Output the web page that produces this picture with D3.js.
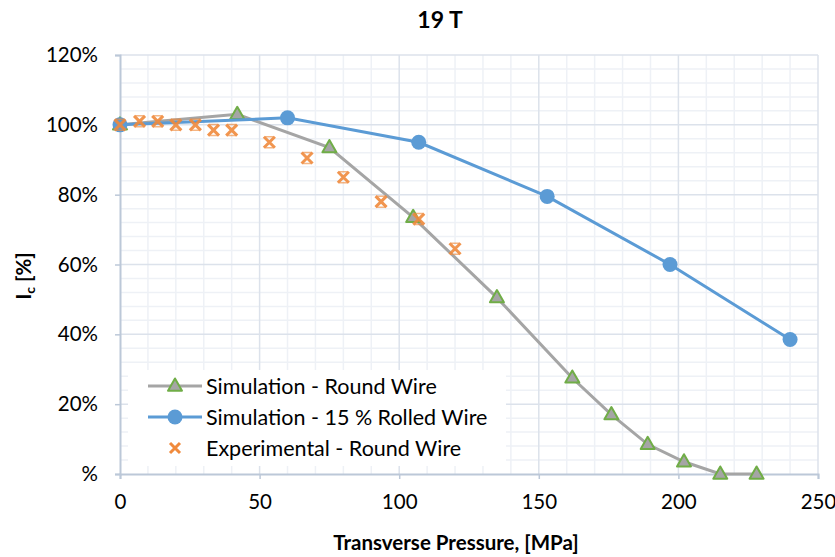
<!DOCTYPE html>
<html>
<head>
<meta charset="utf-8">
<script src="https://cdn.jsdelivr.net/npm/d3@7"></script>
<style>
  html, body { margin: 0; padding: 0; background: #fff; }
  svg text { font-family: Lato, "Open Sans", sans-serif; fill: #000; }
</style>
</head>
<body>
<svg id="chart" width="835" height="557"></svg>
<script>
// ---- data ----
const roundP  = [0, 42, 75, 105, 135, 162, 176, 189, 202, 215, 228];
const roundIc = [1.00, 1.03, 0.935, 0.735, 0.505, 0.275, 0.17, 0.085, 0.035, 0.0, 0.0];

const rolledP  = [0, 60, 107, 153, 197, 240];
const rolledIc = [1.00, 1.02, 0.95, 0.795, 0.60, 0.385];

const expP  = [0, 7, 13.5, 20, 27, 33.5, 40, 53.5, 67, 80, 93.5, 107, 120];
const expIc = [1.00, 1.01, 1.01, 1.00, 1.00, 0.985, 0.985, 0.95, 0.905, 0.85, 0.78, 0.73, 0.645];

const xTicks = [0, 50, 100, 150, 200, 250];
const yTicks = [0, 0.2, 0.4, 0.6, 0.8, 1.0, 1.2];
const yTickLabels = ["%", "20%", "40%", "60%", "80%", "100%", "120%"];
const seriesNames = ["Simulation - Round Wire", "Simulation - 15 % Rolled Wire", "Experimental - Round Wire"];
const titleText = "19 T";
const xTitle = "Transverse Pressure, [MPa]";

// ---- layout ----
const svg = d3.select("#chart");
const x = d3.scaleLinear().domain([0, 250]).range([120, 818]);
const y = d3.scaleLinear().domain([0, 1.2]).range([474, 55]);

const gridMinor = "#EEF1F6", gridMajor = "#DCE2EB", axisCol = "#BCC8D8";

// minor grid
svg.append("g").selectAll("line").data(d3.range(10, 251, 10).filter(v => v % 50 !== 0))
  .join("line").attr("x1", d => x(d)).attr("x2", d => x(d)).attr("y1", y(1.2)).attr("y2", y(0))
  .attr("stroke", gridMinor).attr("stroke-width", 1.5);
svg.append("g").selectAll("line").data(d3.range(1, 30).map(i => i * 0.04).filter(v => Math.abs(v / 0.2 - Math.round(v / 0.2)) > 1e-6))
  .join("line").attr("x1", x(0)).attr("x2", x(250)).attr("y1", d => y(d)).attr("y2", d => y(d))
  .attr("stroke", gridMinor).attr("stroke-width", 1.5);
// major grid
svg.append("g").selectAll("line").data(xTicks.slice(1))
  .join("line").attr("x1", d => x(d)).attr("x2", d => x(d)).attr("y1", y(1.2)).attr("y2", y(0))
  .attr("stroke", gridMajor).attr("stroke-width", 1.5);
svg.append("g").selectAll("line").data(yTicks.slice(1))
  .join("line").attr("x1", x(0)).attr("x2", x(250)).attr("y1", d => y(d)).attr("y2", d => y(d))
  .attr("stroke", gridMajor).attr("stroke-width", 1.5);

// axes
const xAxis = d3.axisBottom(x).tickValues(xTicks).tickSize(5).tickPadding(15).tickFormat(d3.format("d"));
const gx = svg.append("g").attr("transform", `translate(0,${y(0)})`).call(xAxis);
gx.select(".domain").attr("stroke", axisCol).attr("stroke-width", 2);
gx.selectAll(".tick line").attr("stroke", axisCol).attr("stroke-width", 1.5);
gx.selectAll(".tick text").attr("font-size", 20.5).attr("font-family", "Lato");

const yAxis = d3.axisLeft(y).tickValues(yTicks).tickSize(5).tickPadding(17)
  .tickFormat((d, i) => yTickLabels[i]);
const gy = svg.append("g").attr("transform", `translate(${x(0)},0)`).call(yAxis);
gy.select(".domain").attr("stroke", axisCol).attr("stroke-width", 2);
gy.selectAll(".tick line").attr("stroke", axisCol).attr("stroke-width", 1.5);
gy.selectAll(".tick text").attr("font-size", 20.5).attr("font-family", "Lato");

// series
const line = d3.line().x(d => x(d[0])).y(d => y(d[1]));
const roundData = roundP.map((p, i) => [p, roundIc[i]]);
const rolledData = rolledP.map((p, i) => [p, rolledIc[i]]);
const expData = expP.map((p, i) => [p, expIc[i]]);

const grayCol = "#A5A5A5", blueCol = "#5B9BD5", greenCol = "#70AD47", orangeCol = "#F08A3C";

function triPath(s) { const h = s * 0.87; return `M0,${-h*0.62}L${s/2},${h*0.38}L${-s/2},${h*0.38}Z`; }
function xDiag(s) { const r = s / 2; return `M${-r},${-r}L${r},${r}M${r},${-r}L${-r},${r}`; }
function xCaps(s) { const r = s / 2; return `M${-r*0.75},${-r}H${r*0.75}M${-r*0.75},${r}H${r*0.75}`; }

svg.append("path").datum(roundData).attr("d", line).attr("fill", "none")
  .attr("stroke", grayCol).attr("stroke-width", 3);
svg.append("g").selectAll("path").data(roundData).join("path")
  .attr("transform", d => `translate(${x(d[0])},${y(d[1])})`)
  .attr("d", triPath(14)).attr("fill", grayCol).attr("stroke", greenCol).attr("stroke-width", 2)
  .attr("stroke-linejoin", "round");

svg.append("path").datum(rolledData).attr("d", line).attr("fill", "none")
  .attr("stroke", blueCol).attr("stroke-width", 3);
svg.append("g").selectAll("circle").data(rolledData).join("circle")
  .attr("cx", d => x(d[0])).attr("cy", d => y(d[1])).attr("r", 7.5)
  .attr("fill", blueCol);

const ex = svg.append("g").selectAll("g").data(expData).join("g")
  .attr("transform", d => `translate(${x(d[0])},${y(d[1])})`).attr("opacity", 0.9);
ex.append("path").attr("d", xDiag(11)).attr("fill", "none").attr("stroke", orangeCol).attr("stroke-width", 3);
ex.append("path").attr("d", xCaps(11)).attr("fill", "none").attr("stroke", orangeCol).attr("stroke-width", 1.5).attr("opacity", 0.7);

// legend
const lg = svg.append("g");
lg.append("rect").attr("x", 128).attr("y", 370).attr("width", 378).attr("height", 96).attr("fill", "#fff");
const rows = [386, 417, 448];
lg.append("line").attr("x1", 148).attr("x2", 202).attr("y1", rows[0]).attr("y2", rows[0])
  .attr("stroke", grayCol).attr("stroke-width", 3);
lg.append("path").attr("transform", `translate(175,${rows[0]})`).attr("d", triPath(14))
  .attr("fill", grayCol).attr("stroke", greenCol).attr("stroke-width", 2).attr("stroke-linejoin", "round");
lg.append("line").attr("x1", 148).attr("x2", 202).attr("y1", rows[1]).attr("y2", rows[1])
  .attr("stroke", blueCol).attr("stroke-width", 3);
lg.append("circle").attr("cx", 175).attr("cy", rows[1]).attr("r", 7.5).attr("fill", blueCol);
const lx = lg.append("g").attr("transform", `translate(175,${rows[2]})`);
lx.append("path").attr("d", xDiag(10)).attr("fill", "none").attr("stroke", orangeCol).attr("stroke-width", 3);
lg.selectAll("text.lt").data(seriesNames).join("text").attr("class", "lt")
  .attr("x", 206).attr("y", (d, i) => rows[i] + 7.5).attr("font-size", 21.5).text(d => d);

// titles
svg.append("text").attr("x", 440).attr("y", 28).attr("text-anchor", "middle")
  .attr("font-size", 23).attr("font-weight", "bold").text(titleText);
svg.append("text").attr("x", 456).attr("y", 550).attr("text-anchor", "middle")
  .attr("font-size", 20.5).attr("font-weight", "bold").text(xTitle);
const yt = svg.append("text").attr("transform", "translate(31,276) rotate(-90)")
  .attr("text-anchor", "middle").attr("font-size", 20.5).attr("font-weight", "bold");
yt.append("tspan").text("I");
yt.append("tspan").attr("font-size", 14).attr("dy", 4).text("c");
yt.append("tspan").attr("dy", -4).text(" [%]");
</script>
</body>
</html>
